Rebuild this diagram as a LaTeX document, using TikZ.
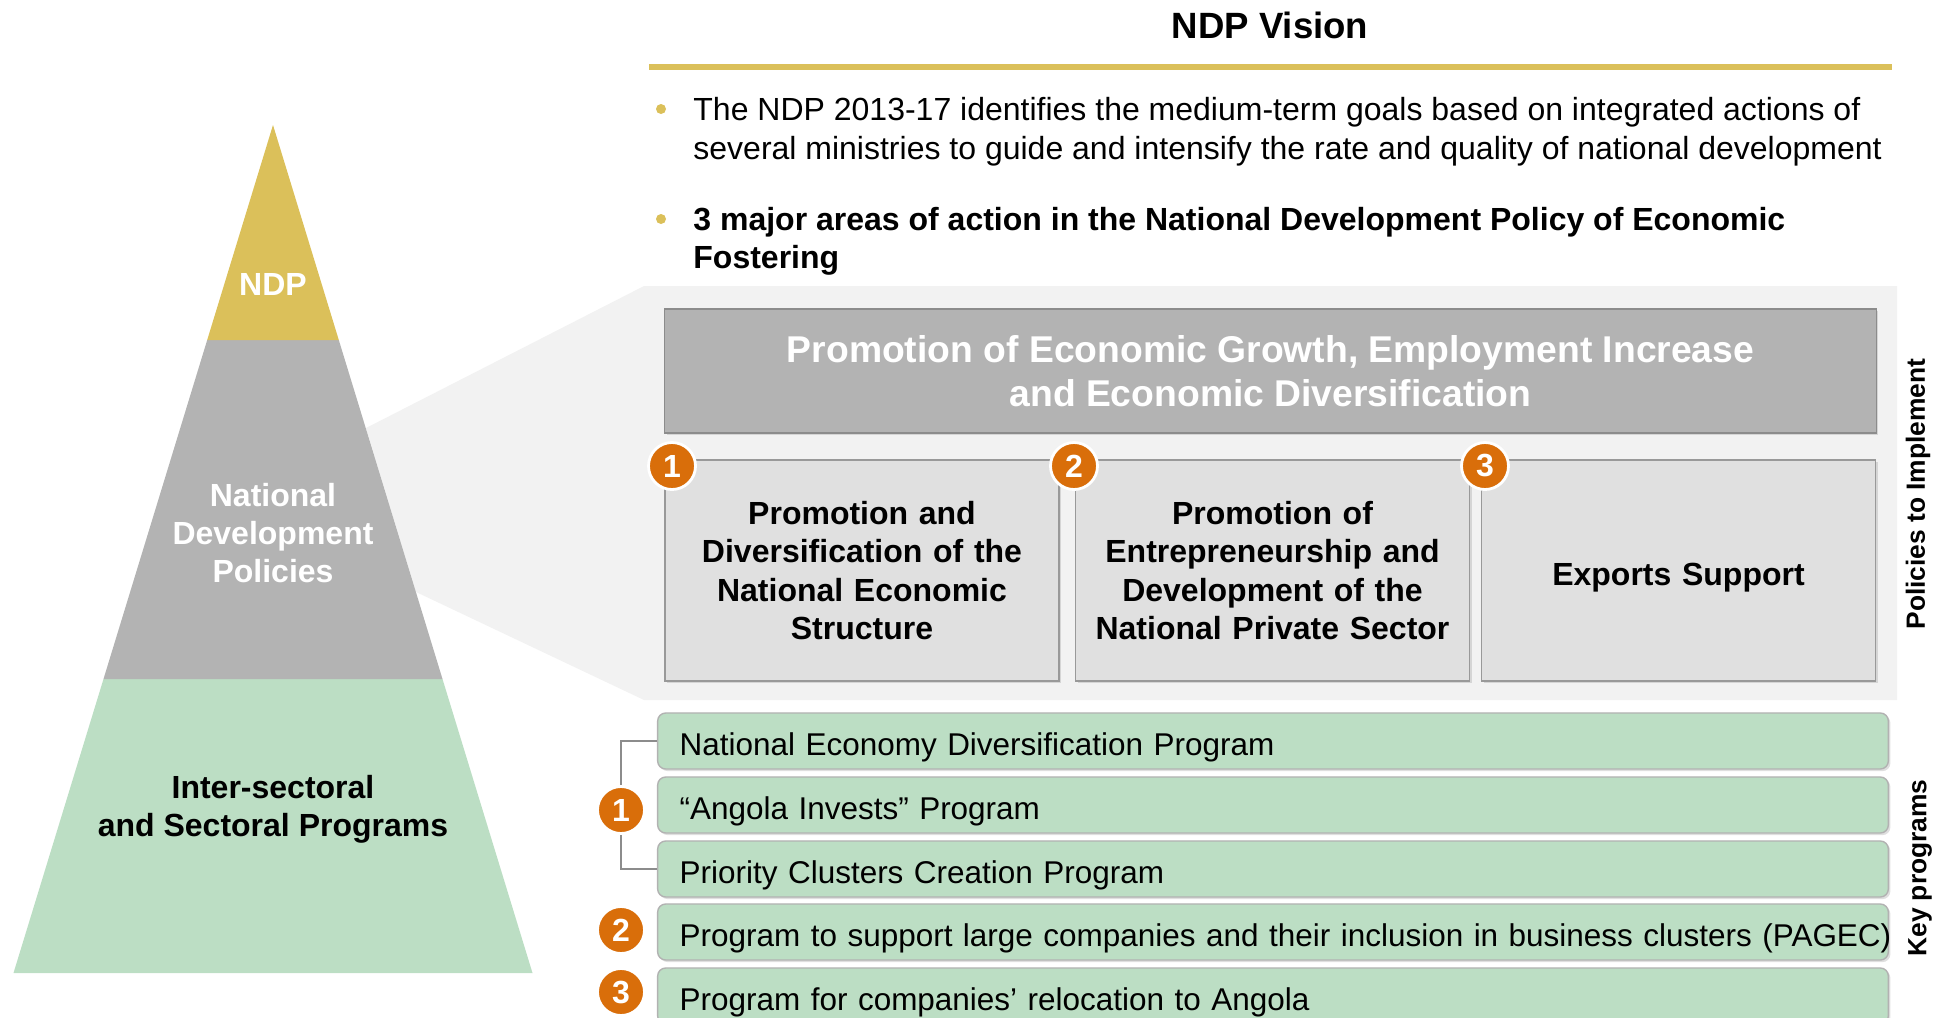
\documentclass[tikz,border=0pt]{standalone}
\usepackage{fontspec}
\setmainfont{Liberation Sans}
\usetikzlibrary{shadows}
\definecolor{cgold}{RGB}{219,192,90}
\definecolor{cgray}{RGB}{179,179,179}
\definecolor{cgreen}{RGB}{188,222,196}
\definecolor{corange}{RGB}{217,110,10}
\definecolor{cpale}{RGB}{242,242,242}
\definecolor{cbox}{RGB}{224,224,224}
\tikzset{ndp/.style={x=0.01cm,y=-0.01cm,font=\fontsize{9.1}{10.9}\selectfont}}
\tikzset{pyrtxt/.style={font=\fontsize{9.1}{10.9}\selectfont\bfseries,align=center},
         shd/.style={drop shadow={shadow xshift=0.6pt,shadow yshift=-0.6pt,opacity=0.25}},
         hdrbox/.style={shd,fill=cgray,draw=black!45,minimum width=12.11cm,minimum height=1.24cm,
                        text=white,align=center,font=\fontsize{10.6}{12.5}\selectfont\bfseries},
         polbox/.style={shd,fill=cbox,draw=black!40,minimum width=3.94cm,minimum height=2.21cm,
                        text width=3.7cm,align=center,font=\fontsize{9.1}{10.9}\selectfont\bfseries},
         prgbar/.style={shd,fill=cgreen,draw=black!30,rounded corners=2.3pt,minimum height=0.56cm,
                        inner xsep=0.22cm,text width=11.86cm,align=left,text height=0.85em,text depth=0pt,
                        font=\fontsize{8.95}{10.9}\selectfont},
         numdot/.style={circle,fill=corange,draw=white,line width=0.8pt,minimum size=0.47cm,
                        inner sep=0pt,text=white,font=\fontsize{9.1}{10.9}\selectfont\bfseries},
         sidelbl/.style={rotate=90,font=\fontsize{7.5}{9}\selectfont\bfseries}}

\begin{document}
\begin{tikzpicture}[ndp]
    \useasboundingbox (0,0) rectangle (1945,1018);
    % zoom wedge and panel behind the policies
    \fill[cpale] (366,428) -- (644,286) -- (1897,286) -- (1897,700) -- (644,700) -- (416,592) -- cycle;
    % pyramid
    \fill[cgreen] (103.5,679) -- (442.5,679) -- (532.5,973) -- (13.5,973) -- cycle;
    \fill[cgray]  (207.2,340) -- (338.8,340) -- (442.5,679) -- (103.5,679) -- cycle;
    \fill[cgold]  (273,125) -- (338.8,340) -- (207.2,340) -- cycle;
    \node[pyrtxt,text=white] (ndp)  at (273,284) {NDP};
    \node[pyrtxt,text=white] (pol)  at (273,533) {National\\Development\\Policies};
    \node[pyrtxt]            (prog) at (273,809) {Inter-sectoral\\and Sectoral Programs};

    % vision
    \node[font=\fontsize{10.4}{12.5}\selectfont\bfseries] (title) at (1270,25) {NDP Vision};
    \draw[cgold,line width=0.05cm] (649,67) -- (1892,67);
    \fill[cgold] (661,109) circle (5);
    \fill[cgold] (661,219) circle (5);
    \node[anchor=west,align=left,font=\fontsize{9.1}{11.1}\selectfont] (vis1) at (681,132)
        {The NDP 2013-17 identifies the medium-term goals based on integrated actions of\\
         several ministries to guide and intensify the rate and quality of national development};
    \node[anchor=west,align=left,font=\fontsize{9.1}{10.8}\selectfont\bfseries] (vis2) at (681,241.5)
        {3 major areas of action in the National Development Policy of Economic\\Fostering};

    % policies
    \node[hdrbox] (hdr) at (1270.5,371) {Promotion of Economic Growth, Employment Increase\\and Economic Diversification};
    \node[polbox] (pol1) at (862,570.5)  {Promotion and\\Diversification of the\\National Economic\\Structure};
    \node[polbox] (pol2) at (1272.5,570.5) {Promotion of\\Entrepreneurship and\\Development of the\\National Private Sector};
    \node[polbox,text height=0.85em,text depth=0pt] (pol3) at (1678.5,570.5) {Exports Support};
    \node[numdot] (n1) at (672,466)  {1};
    \node[numdot] (n2) at (1074,466) {2};
    \node[numdot] (n3) at (1485,466) {3};
    \node[sidelbl] (lblpol) at (1918,494) {Policies to Implement};

    % key programs
    \node[prgbar] (ned)  at (1273,741) {National Economy Diversification Program};
    \node[prgbar] (ainv) at (1273,805) {“Angola Invests” Program};
    \node[prgbar] (pcc)  at (1273,869) {Priority Clusters Creation Program};
    \node[prgbar] (pagec) at (1273,932) {\mbox{Program to support large companies and their inclusion in business clusters (PAGEC)}};
    \node[prgbar] (reloc) at (1273,996) {Program for companies’ relocation to Angola};
    \coordinate (brk) at (621,810);
    \draw[black!45,line width=0.6pt] (ned.west) -- (ned.west -| brk) -- (pcc.west -| brk) -- (pcc.west);
    \node[numdot] (k1) at (brk) {1};
    \node[numdot] (k2) at (621,930) {2};
    \node[numdot] (k3) at (621,992) {3};
    \node[sidelbl] (lblkey) at (1920,868) {Key programs};
\end{tikzpicture}
\end{document}
